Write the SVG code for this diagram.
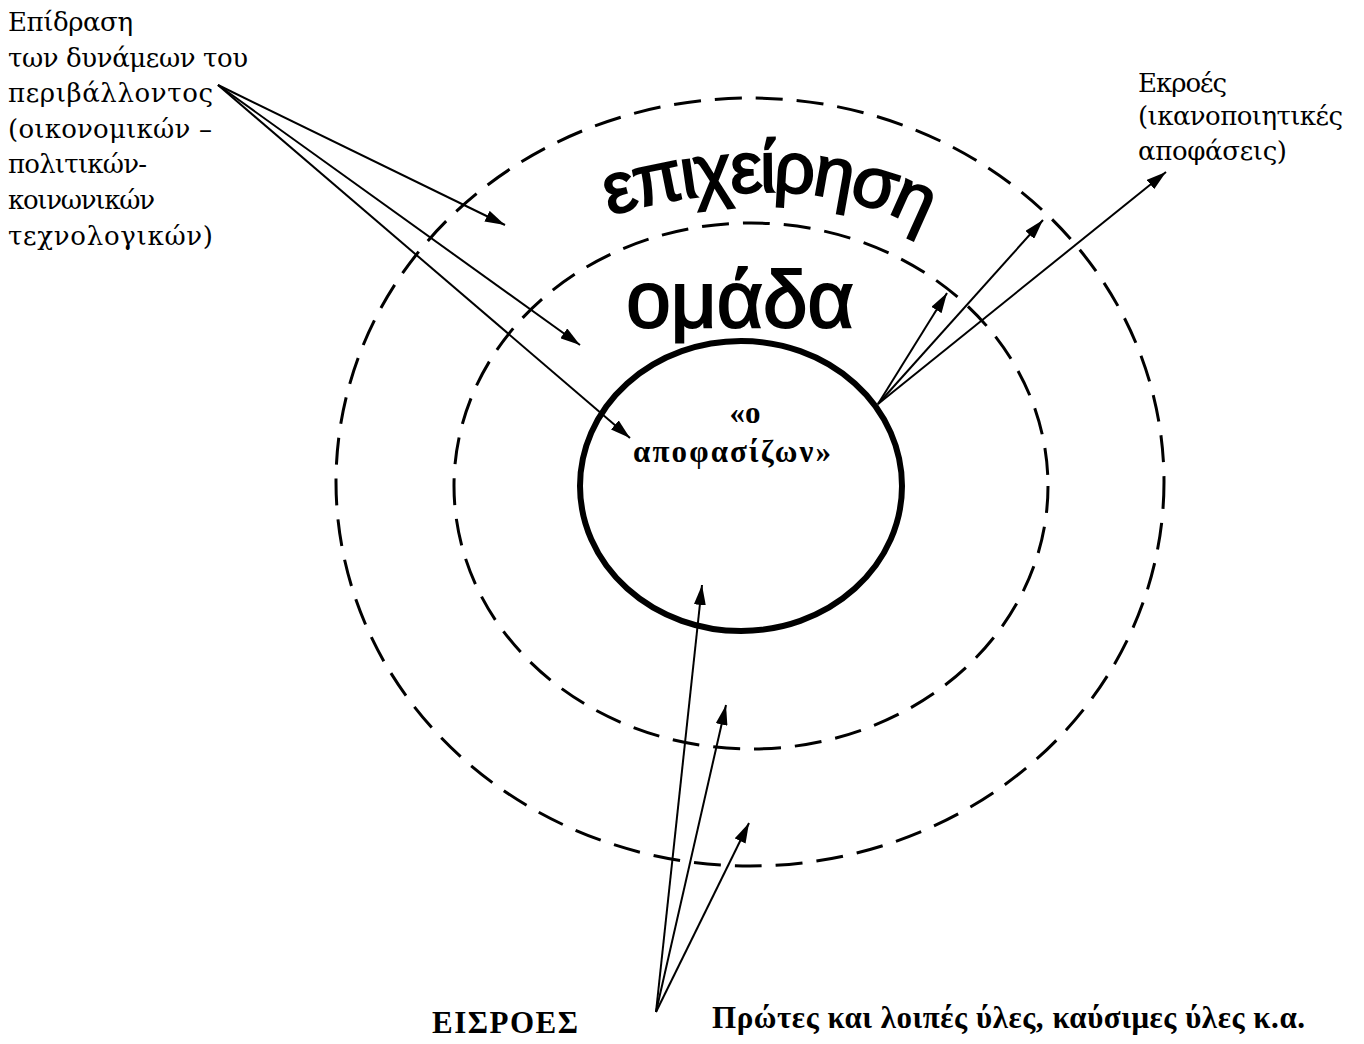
<svg xmlns="http://www.w3.org/2000/svg" width="1364" height="1044" viewBox="0 0 1364 1044">
  <style>
    .serif { font-family: "DejaVu Serif", "Liberation Serif", serif; fill: #000; }
    .bold { font-family: "Liberation Serif", "DejaVu Serif", serif; font-weight: bold; fill: #000; }
    .sans { font-family: "Liberation Sans", Arial, sans-serif; fill: #000; stroke: #000; stroke-width: 2; }
    .dash { fill: none; stroke: #000; stroke-width: 3; stroke-dasharray: 27 14; }
    .solid { fill: none; stroke: #000; stroke-width: 6; }
    .arrow { fill: none; stroke: #000; stroke-width: 2; marker-end: url(#head); }
  </style>
  <defs>
    <marker id="head" viewBox="0 0 20 12" refX="20" refY="6" markerWidth="20" markerHeight="12" markerUnits="userSpaceOnUse" orient="auto">
      <path d="M0,0 L20,6 L0,12 Z" fill="#000"/>
    </marker>
    <!-- baseline for the curved title: gentle on the left, tighter on the right -->
    <path id="arc" d="M590,222 A560,560 0 0,1 775,192 A320,320 0 0,1 945,242"/>
  </defs>
  <rect width="1364" height="1044" fill="#fff"/>

  <!-- outer ring: the firm -->
  <g id="firm">
    <ellipse class="dash" cx="750" cy="482" rx="414" ry="384"/>
    <text class="sans" font-size="72" letter-spacing="-3"><textPath href="#arc" startOffset="49%" text-anchor="middle">επιχείρηση</textPath></text>
  </g>

  <!-- middle ring: the group -->
  <g id="group">
    <ellipse class="dash" cx="751" cy="486" rx="297" ry="263"/>
    <text class="sans" x="740" y="327" font-size="80" text-anchor="middle">ομάδα</text>
  </g>

  <!-- core: the decision maker -->
  <g id="decision-maker">
    <ellipse class="solid" cx="741" cy="486" rx="161" ry="145"/>
    <text class="bold" x="745" y="423" font-size="31" text-anchor="middle">«ο</text>
    <text class="bold" x="732" y="462" font-size="31" text-anchor="middle" textLength="198">αποφασίζων»</text>
  </g>

  <!-- environment label -->
  <g id="environment">
    <text class="serif" font-size="26">
      <tspan x="8" y="31" textLength="125">Επίδραση</tspan>
      <tspan x="8" y="67" textLength="240">των δυνάμεων του</tspan>
      <tspan x="8" y="102" textLength="205">περιβάλλοντος</tspan>
      <tspan x="8" y="138" textLength="204">(οικονομικών –</tspan>
      <tspan x="8" y="173" textLength="139">πολιτικών-</tspan>
      <tspan x="8" y="209" textLength="147">κοινωνικών</tspan>
      <tspan x="8" y="245" textLength="205">τεχνολογικών)</tspan>
    </text>
  </g>

  <!-- outputs label -->
  <g id="outputs">
    <text class="serif" font-size="26">
      <tspan x="1138" y="92" textLength="89">Εκροές</tspan>
      <tspan x="1138" y="125" textLength="205">(ικανοποιητικές</tspan>
      <tspan x="1138" y="160" textLength="149">αποφάσεις)</tspan>
    </text>
  </g>

  <!-- inputs labels -->
  <g id="inputs">
    <text class="bold" x="432" y="1033" font-size="31" textLength="146">ΕΙΣΡΟΕΣ</text>
    <text class="bold" x="712" y="1028" font-size="31" textLength="593">Πρώτες και λοιπές ύλες, καύσιμες ύλες κ.α.</text>
  </g>

  <!-- connectors -->
  <g id="connectors">
    <line class="arrow" x1="218" y1="85" x2="505" y2="225"/>
    <line class="arrow" x1="218" y1="85" x2="580" y2="345"/>
    <line class="arrow" x1="218" y1="85" x2="630" y2="438"/>
    <line class="arrow" x1="878" y1="404" x2="947" y2="293"/>
    <line class="arrow" x1="878" y1="404" x2="1043" y2="220"/>
    <line class="arrow" x1="878" y1="404" x2="1166" y2="172"/>
    <line class="arrow" x1="656" y1="1012" x2="702" y2="585"/>
    <line class="arrow" x1="656" y1="1012" x2="726" y2="705"/>
    <line class="arrow" x1="656" y1="1012" x2="749" y2="823"/>
  </g>
</svg>
